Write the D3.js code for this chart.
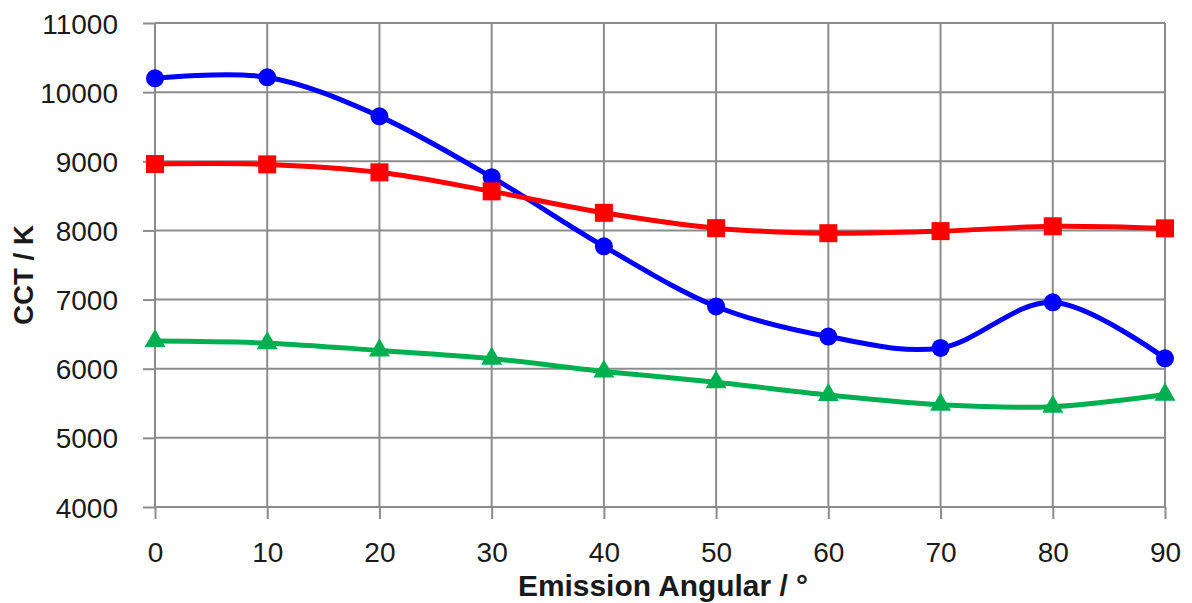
<!DOCTYPE html>
<html>
<head>
<meta charset="utf-8">
<script src="https://cdn.jsdelivr.net/npm/d3@7"></script>
<style>
  html, body { margin: 0; padding: 0; background: #fff; }
  svg { display: block; }
  text { font-family: "Liberation Sans", Arial, sans-serif; fill: #1a1a1a; }
</style>
</head>
<body>
<svg id="chart" width="1192" height="603"></svg>
<script>
const angles = [0, 10, 20, 30, 40, 50, 60, 70, 80, 90];
const blueValues  = [10200, 10215, 9650, 8770, 7770, 6900, 6465, 6300, 6960, 6150];
const redValues   = [8960, 8955, 8840, 8565, 8255, 8033, 7960, 7990, 8060, 8030];
const greenValues = [6400, 6370, 6265, 6145, 5960, 5805, 5620, 5480, 5450, 5625];
const xTicks = [0, 10, 20, 30, 40, 50, 60, 70, 80, 90];
const yTicks = [4000, 5000, 6000, 7000, 8000, 9000, 10000, 11000];
const xTitle = "Emission Angular / °";
const yTitle = "CCT / K";

(function () {
const svg = d3.select("#chart");
const mLeft = 155, mRight = 1165, mTop = 23, mBottom = 507;

const x = d3.scaleLinear().domain([0, 90]).range([mLeft, mRight]);
const y = d3.scaleLinear().domain([4000, 11000]).range([mBottom, mTop]);

const gridColor = "#8c8c8c";

// horizontal gridlines + left ticks
const yAxis = d3.axisLeft(y).tickValues(yTicks).tickSize(12).tickFormat(d => d);
const gy = svg.append("g").attr("transform", `translate(${mLeft},0)`).call(yAxis);
gy.select(".domain").remove();
gy.selectAll(".tick line").attr("stroke", gridColor).attr("stroke-width", 2);
gy.selectAll(".tick text").attr("x", -37).attr("dy", "0.36em")
  .style("font-family", "'Liberation Sans', Arial, sans-serif")
  .style("font-size", "28px").style("fill", "#1a1a1a");
svg.append("g").selectAll("line").data(yTicks).join("line")
  .attr("x1", mLeft).attr("x2", mRight)
  .attr("y1", d => y(d)).attr("y2", d => y(d))
  .attr("stroke", gridColor).attr("stroke-width", 2);

// vertical gridlines + bottom ticks
const xAxis = d3.axisBottom(x).tickValues(xTicks).tickSize(12).tickFormat(d => d);
const gx = svg.append("g").attr("transform", `translate(0,${mBottom})`).call(xAxis);
gx.select(".domain").remove();
gx.selectAll(".tick line").attr("stroke", gridColor).attr("stroke-width", 2);
gx.selectAll(".tick text").attr("y", 45).attr("dy", "0.36em")
  .style("font-family", "'Liberation Sans', Arial, sans-serif")
  .style("font-size", "28px").style("fill", "#1a1a1a");
svg.append("g").selectAll("line").data(xTicks).join("line")
  .attr("x1", d => x(d)).attr("x2", d => x(d))
  .attr("y1", mTop).attr("y2", mBottom)
  .attr("stroke", gridColor).attr("stroke-width", 2);

// titles
svg.append("text").attr("x", (mLeft + mRight) / 2 + 3).attr("y", 596)
  .attr("text-anchor", "middle").attr("font-weight", "bold")
  .attr("textLength", 290).attr("lengthAdjust", "spacingAndGlyphs")
  .style("font-size", "29px").text(xTitle);
svg.append("text").attr("transform", "translate(33,275) rotate(-90)")
  .attr("text-anchor", "middle").attr("font-weight", "bold")
  .attr("textLength", 100).attr("lengthAdjust", "spacingAndGlyphs")
  .style("font-size", "27px").text(yTitle);

const line = d3.line().x(d => x(d[0])).y(d => y(d[1])).curve(d3.curveCatmullRom.alpha(0));

const series = [
  { values: blueValues, color: "#0000ff", marker: "circle" },
  { values: redValues, color: "#ff0000", marker: "square" },
  { values: greenValues, color: "#00b050", marker: "triangle" }
];

series.forEach(s => {
  const pts = angles.map((a, i) => [a, s.values[i]]);
  svg.append("path").datum(pts).attr("d", line)
    .attr("fill", "none").attr("stroke", s.color).attr("stroke-width", 5)
    .attr("stroke-linejoin", "round");
});

series.forEach(s => {
  const pts = angles.map((a, i) => [a, s.values[i]]);
  const g = svg.append("g");
  if (s.marker === "circle") {
    g.selectAll("circle").data(pts).join("circle")
      .attr("cx", d => x(d[0])).attr("cy", d => y(d[1])).attr("r", 9)
      .attr("fill", s.color);
  } else if (s.marker === "square") {
    g.selectAll("rect").data(pts).join("rect")
      .attr("x", d => x(d[0]) - 9).attr("y", d => y(d[1]) - 9)
      .attr("width", 18).attr("height", 18).attr("fill", s.color);
  } else {
    const tri = d3.symbol().type(d3.symbolTriangle).size(190);
    g.selectAll("path").data(pts).join("path")
      .attr("transform", d => `translate(${x(d[0])},${y(d[1])})`)
      .attr("d", tri).attr("fill", s.color);
  }
});
})();
</script>
</body>
</html>
